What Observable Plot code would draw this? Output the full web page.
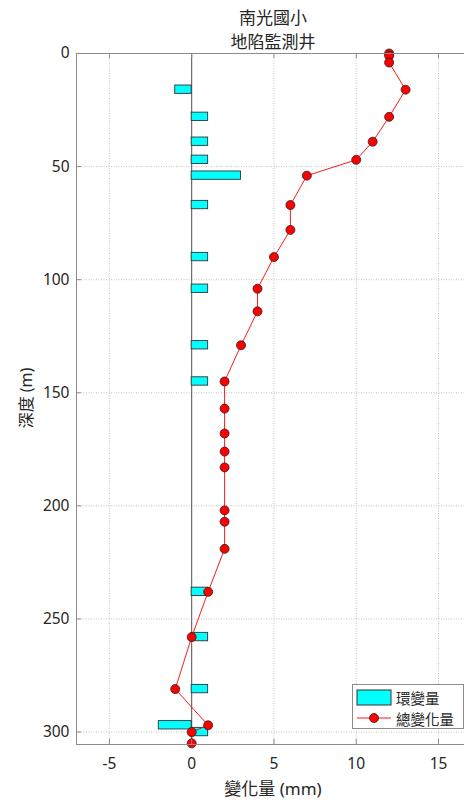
<!DOCTYPE html>
<html>
<head>
<meta charset="utf-8">
<script src="https://cdn.jsdelivr.net/npm/d3@7"></script>
<script src="https://cdn.jsdelivr.net/npm/@observablehq/plot@0.6"></script>
<style>
  html, body { margin: 0; padding: 0; background: #fff; }
  #wrap { position: relative; width: 464px; height: 803px; overflow: hidden;
          font-family: "Noto Sans", "Noto Sans CJK TC", sans-serif; color: #262626; }
  .abs { position: absolute; white-space: nowrap; }
  #title { left: 0; width: 546px; top: 6px; text-align: center; font-size: 17px; line-height: 23.5px; }
  #xlabel { left: 0; width: 546px; top: 778px; text-align: center; font-size: 17px; line-height: 22px; }
  #ylabel { left: 25px; top: 398px; font-size: 16px; transform: translate(-50%, -50%) rotate(-90deg); }
  #legend { left: 352px; top: 684px; width: 112px; height: 45px; border: 1px solid #8c8c8c; background: #fff; box-sizing: border-box; }
  .lrow { position: absolute; left: 3px; height: 20px; display: flex; align-items: center; font-size: 14.5px; }
  .lrow svg { margin-right: 4px; }
</style>
</head>
<body>
<div id="wrap">
  <div id="chart" class="abs" style="left:0;top:0"></div>
  <div id="title" class="abs">南光國小<br>地陷監測井</div>
  <div id="xlabel" class="abs">變化量 (mm)</div>
  <div id="ylabel" class="abs">深度 (m)</div>
  <div id="legend" class="abs">
    <div class="lrow" style="top:2px"><svg width="36" height="18"><rect x="1" y="2" width="34" height="15" fill="#00ffff" stroke="#333" stroke-width="1"/></svg>環變量</div>
    <div class="lrow" style="top:23px"><svg width="36" height="18"><line x1="1" x2="35" y1="9" y2="9" stroke="#ff0000" stroke-width="0.9"/><circle cx="18" cy="9" r="4.5" fill="#ff0000" stroke="#222" stroke-width="0.8"/></svg>總變化量</div>
  </div>
</div>
<script>
// Data
const depth = [0, 1, 4, 16, 28, 39, 47, 54, 67, 78, 90, 104, 114, 129, 145, 157, 168, 176, 183, 202, 207, 219, 238, 258, 281, 297, 300, 305];
const totalChange = [12, 12, 12, 13, 12, 11, 10, 7, 6, 6, 5, 4, 4, 3, 2, 2, 2, 2, 2, 2, 2, 2, 1, 0, -1, 1, 0, 0];
const ringChange = [0, 0, 0, -1, 1, 1, 1, 3, 1, 0, 1, 1, 0, 1, 1, 0, 0, 0, 0, 0, 0, 0, 1, 1, 1, -2, 1, 0];
const xTicks = [-5, 0, 5, 10, 15];
const yTicks = [0, 50, 100, 150, 200, 250, 300];
const xDomain = [-7, 16.58];
const yDomain = [0, 305.5];

const rows = depth.map((d, i) => ({depth: d, total: totalChange[i], ring: ringChange[i]}));

const W = 464, H = 803;
const mL = 76, mR = 0, mT = 53, mB = 59;
const fw = W - mL - mR, fh = H - mT - mB;
const half = 1.85;
const tk = 5;

const chart = Plot.plot({
  width: W, height: H,
  marginLeft: mL, marginRight: mR, marginTop: mT, marginBottom: mB,
  style: {fontFamily: '"Noto Sans", "Noto Sans CJK TC", sans-serif', fontSize: "15.5px", color: "#262626", background: "white"},
  x: {domain: xDomain, ticks: xTicks, label: null},
  y: {domain: yDomain, ticks: yTicks, label: null, reverse: true},
  marks: [
    Plot.gridX(xTicks, {stroke: "#b4b4b4", strokeOpacity: 1, strokeDasharray: "1,1.5", strokeWidth: 0.8}),
    Plot.gridY(yTicks, {stroke: "#b4b4b4", strokeOpacity: 1, strokeDasharray: "1,1.5", strokeWidth: 0.8}),
    Plot.ruleX([0], {stroke: "#555", strokeWidth: 1}),
    Plot.rectX(rows, {x1: 0, x2: "ring", y1: d => d.depth - half, y2: d => d.depth + half, fill: "#00ffff", stroke: "#333", strokeWidth: 0.9}),
    Plot.line(rows, {x: "total", y: "depth", stroke: "#ff0000", strokeWidth: 0.9}),
    Plot.dot(rows, {x: "total", y: "depth", r: 4.5, fill: "#ff0000", stroke: "#222", strokeWidth: 0.8}),
    // frame (left, top, bottom)
    Plot.ruleX([xDomain[0]], {stroke: "#8c8c8c", strokeWidth: 1}),
    Plot.ruleY(yDomain, {stroke: "#8c8c8c", strokeWidth: 1}),
    // inward ticks
    Plot.tickX(xTicks, {x: d => d, stroke: "#8c8c8c", insetTop: fh - tk}),
    Plot.tickX(xTicks, {x: d => d, stroke: "#8c8c8c", insetBottom: fh - tk}),
    Plot.tickY(yTicks, {y: d => d, stroke: "#8c8c8c", insetRight: fw - tk}),
    Plot.axisX(xTicks, {anchor: "bottom", tickSize: 0, tickPadding: 13, label: null, fill: "#262626", fontSize: 15.5, tickFormat: d => String(d)}),
    Plot.axisY(yTicks, {anchor: "left", tickSize: 0, tickPadding: 7, label: null, fill: "#262626", fontSize: 15.5, tickFormat: d => String(d)})
  ]
});
document.getElementById("chart").appendChild(chart);
</script>
</body>
</html>
